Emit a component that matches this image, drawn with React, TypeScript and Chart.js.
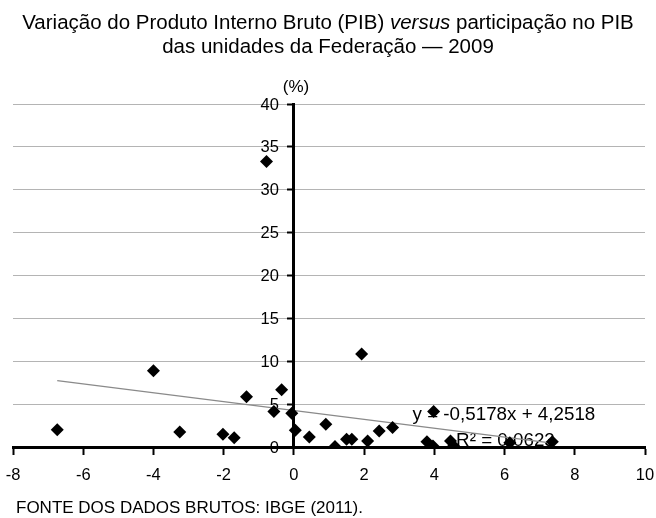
import React, { useEffect, useRef } from "react";
import { Chart, registerables } from "chart.js";

Chart.register(...registerables);

// Data: variation of GDP (x, %) vs share of GDP (y, %) for Brazilian states, 2009
const variacaoPIB: number[] = [
  -6.74, -4.0, -3.25, -2.02, -1.7, -1.35, -0.35, -0.57, -0.78, -0.06,
  0.04, 0.44, 0.91, 1.17, 1.5, 1.65, 1.93, 2.1, 2.43, 2.81,
  3.79, 3.96, 3.98, 4.46, 4.55, 6.15, 7.36,
];
const participacaoPIB: number[] = [
  2.0, 8.9, 1.75, 1.48, 1.09, 5.85, 6.67, 4.13, 33.3, 3.94,
  1.95, 1.17, 2.65, 0.05, 0.9, 0.9, 10.84, 0.7, 1.87, 2.26,
  0.62, 0.12, 4.13, 0.7, 0.12, 0.5, 0.62,
];

// Linear trend line coefficients (as printed on the chart)
const trendSlope = -0.5178;
const trendIntercept = 4.2518;
const equationText = "y = -0,5178x + 4,2518";
const r2Text = "R² = 0,0623";

const xTicks: number[] = [-8, -6, -4, -2, 0, 2, 4, 6, 8, 10];
const yTicks: number[] = [0, 5, 10, 15, 20, 25, 30, 35, 40];

const titleLine1a = "Variação do Produto Interno Bruto (PIB) ";
const titleItalic = "versus";
const titleLine1b = " participação no PIB";
const titleLine2 = "das unidades da Federação — 2009";
const unitLabel = "(%)";
const sourceText = "FONTE DOS DADOS BRUTOS: IBGE (2011).";

const FONT = '"Liberation Sans", Arial, Helvetica, sans-serif';

export default function App() {
  const canvasRef = useRef<HTMLCanvasElement | null>(null);

  useEffect(() => {
    if (!canvasRef.current) return;
    const points = variacaoPIB.map((x, i) => ({ x, y: participacaoPIB[i] }));
    const xmin = Math.min(...variacaoPIB);
    const xmax = Math.max(...variacaoPIB);
    const trend = [
      { x: xmin, y: trendSlope * xmin + trendIntercept },
      { x: xmax, y: trendSlope * xmax + trendIntercept },
    ];

    const textPlugin = {
      id: "textLabels",
      beforeDatasetsDraw(chart: any) {
        const { ctx, scales } = chart;
        ctx.save();
        ctx.fillStyle = "#000";
        // y-axis tick labels, to the left of the y axis (which sits at x = 0)
        ctx.font = `16.5px ${FONT}`;
        ctx.textAlign = "right";
        ctx.textBaseline = "middle";
        const axisX = scales.x.getPixelForValue(0);
        yTicks.forEach((v) => {
          ctx.fillText(String(v), axisX - 15, scales.y.getPixelForValue(v) + 1);
        });
        // regression equation
        ctx.textAlign = "left";
        ctx.font = `18.8px ${FONT}`;
        ctx.fillText(equationText, scales.x.getPixelForValue(3.38), scales.y.getPixelForValue(3.75));
        ctx.fillText(r2Text, scales.x.getPixelForValue(4.62), scales.y.getPixelForValue(0.7));
        ctx.restore();
      },
    };

    const chart = new Chart(canvasRef.current, {
      type: "scatter",
      data: {
        datasets: [
          {
            label: "UF",
            data: points,
            pointStyle: "rectRot",
            pointRadius: 6.5,
            pointHoverRadius: 6.5,
            backgroundColor: "#000",
            borderColor: "#000",
            borderWidth: 0,
          },
          {
            type: "line",
            label: "Tendência",
            data: trend,
            borderColor: "#8a8a8a",
            borderWidth: 1.3,
            pointRadius: 0,
            fill: false,
          } as any,
        ],
      },
      options: {
        animation: false,
        responsive: false,
        maintainAspectRatio: false,
        layout: { padding: { left: 13, right: 11, top: 104, bottom: 71 } },
        plugins: {
          legend: { display: false },
          title: { display: false },
          tooltip: { enabled: false },
        },
        scales: {
          x: {
            type: "linear",
            position: { y: 0 } as any,
            min: -8,
            max: 10,
            afterBuildTicks: (s: any) => {
              s.ticks = xTicks.map((v) => ({ value: v }));
            },
            afterFit: (s: any) => {
              s.paddingLeft = 0;
              s.paddingRight = 0;
            },
            grid: {
              drawOnChartArea: false,
              drawTicks: true,
              tickLength: 6,
              tickColor: "#000",
              tickWidth: 2,
            },
            border: { display: true, color: "#000", width: 3 },
            ticks: {
              color: "#000",
              padding: 13,
              font: { family: FONT, size: 16.5 },
              callback: (v: any) => String(v),
            },
          },
          y: {
            type: "linear",
            position: { x: 0 } as any,
            min: 0,
            max: 40,
            afterBuildTicks: (s: any) => {
              s.ticks = yTicks.map((v) => ({ value: v }));
            },
            grid: {
              drawOnChartArea: true,
              color: "#b4b4b4",
              lineWidth: 1,
              drawTicks: true,
              tickLength: 5,
              tickColor: "#000",
              tickWidth: 2,
            },
            border: { display: true, color: "#000", width: 3 },
            ticks: {
              display: false,
            },
          },
        },
      },
      plugins: [textPlugin],
    });
    return () => chart.destroy();
  }, []);

  return (
    <div
      style={{
        position: "fixed",
        left: 0,
        top: 0,
        width: 656,
        height: 518,
        background: "#fff",
        fontFamily: FONT,
        color: "#000",
      }}
    >
      <canvas
        ref={canvasRef}
        width={656}
        height={518}
        style={{ position: "absolute", left: 0, top: 0, width: 656, height: 518 }}
      />
      <div
        style={{
          position: "absolute",
          left: 0,
          top: 10,
          width: 656,
          textAlign: "center",
          fontSize: 20.5,
          lineHeight: "24px",
        }}
      >
        <div>
          {titleLine1a}
          <i>{titleItalic}</i>
          {titleLine1b}
        </div>
        <div>{titleLine2}</div>
      </div>
      <div
        style={{
          position: "absolute",
          left: 296,
          top: 77,
          transform: "translateX(-50%)",
          fontSize: 17,
          lineHeight: "20px",
          whiteSpace: "nowrap",
        }}
      >
        {unitLabel}
      </div>
      <div
        style={{
          position: "absolute",
          left: 16,
          top: 498,
          fontSize: 17,
          lineHeight: "20px",
          whiteSpace: "nowrap",
        }}
      >
        {sourceText}
      </div>
    </div>
  );
}
